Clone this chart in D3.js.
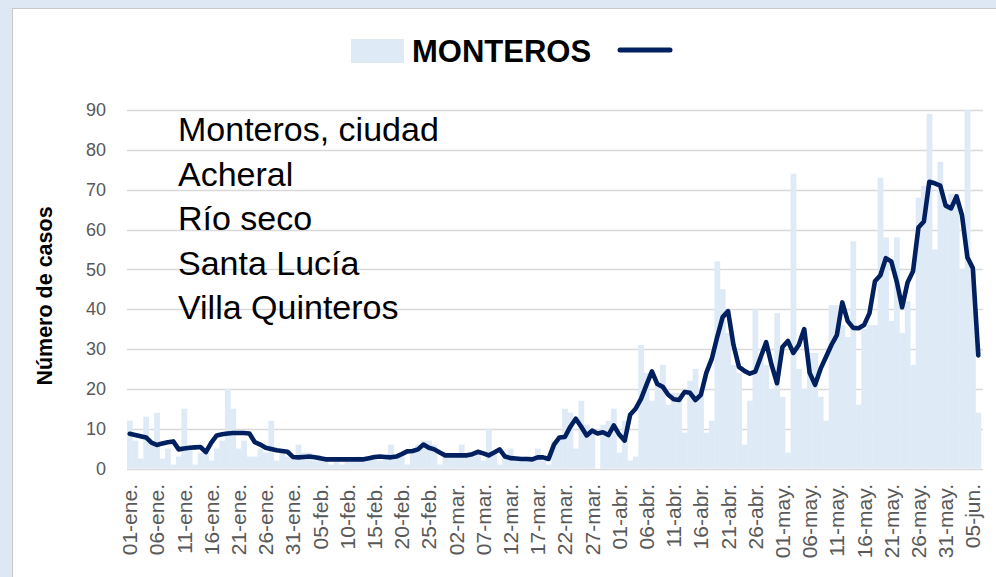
<!DOCTYPE html>
<html>
<head>
<meta charset="utf-8">
<script src="https://cdn.jsdelivr.net/npm/d3@7"></script>
<style>
  html, body { margin: 0; padding: 0; background: #fff; }
  svg { display: block; }
</style>
</head>
<body>
<svg id="chart" width="996" height="577"></svg>
<script>
// ---- DATA ----
const startDate = new Date(2021, 0, 1);
const endDate = new Date(2021, 5, 7); // exclusive
const categories = d3.timeDay.range(startDate, endDate); // 01-ene .. 06-jun (157 days)

const dailyCases = [
  12, 7, 2.5, 13, 6, 14, 2.5, 5, 1, 3,
  15, 5, 1, 4, 4, 2, 5, 7, 20, 15,
  5, 7, 3, 3, 5, 4, 12, 2, 4, 3,
  3, 6, 4, 4, 2, 3, 2, 1, 2, 1,
  2, 2, 3, 2, 3, 3, 2, 3, 6, 3,
  3, 1, 4, 6, 7, 7, 6, 1, 3, 3,
  3, 6, 3, 3, 4, 2, 10, 4, 1, 3,
  5, 2, 2, 3, 2, 5, 2, 1, 7, 8,
  15, 14, 5, 17, 11, 9, 0, 11, 12, 15,
  4, 12, 2, 3, 31, 24, 17, 21, 26, 16,
  19, 19, 9, 22, 25, 20, 9, 12, 52, 45,
  34, 26, 24, 6, 17, 40, 28, 26, 20, 39,
  18, 4, 74, 25, 20, 29, 29, 18, 12, 41,
  41, 36, 33, 57, 16, 35, 36, 36, 73, 58,
  37, 58, 34, 42, 26, 68, 71, 89, 55, 77,
  66, 69, 69, 50, 90, 50, 14
];

const trendLine = [
  8.7, 8.4, 8.1, 7.8, 6.5, 5.9, 6.3, 6.6, 6.8, 4.8,
  5.0, 5.2, 5.3, 5.4, 4.1, 6.5, 8.3, 8.6, 8.8, 8.9,
  8.9, 8.9, 8.8, 6.6, 6.0, 5.2, 4.9, 4.6, 4.4, 4.2,
  2.9, 2.8, 2.9, 3.0, 2.8, 2.6, 2.3, 2.3, 2.3, 2.3,
  2.3, 2.3, 2.3, 2.3, 2.6, 2.9, 3.0, 2.9, 2.8, 3.0,
  3.6, 4.3, 4.4, 4.8, 6.0, 5.2, 4.8, 4.0, 3.3, 3.3,
  3.3, 3.3, 3.3, 3.6, 4.2, 3.8, 3.3, 4.0, 4.8, 3.0,
  2.6, 2.5, 2.4, 2.4, 2.3, 2.8, 2.8, 2.4, 6.0, 7.8,
  7.9, 10.5, 12.5, 10.5, 8.3, 9.5, 8.8, 9.1, 8.4, 10.8,
  8.5, 7.0, 13.5, 15.0, 17.5, 21.0, 24.4, 21.2, 20.5, 18.5,
  17.4, 17.2, 19.2, 19.0, 17.2, 18.5, 24, 27.5, 33, 38,
  39.5, 31, 25.5, 24.5, 23.8, 24.3, 28, 31.7, 26, 21.4,
  30.5, 32, 29, 31, 35, 24, 21, 25, 28, 31,
  33.5, 41.7, 37, 35.3, 35.2, 36, 39, 47, 48.5, 52.8,
  52, 47, 40.5, 46.7, 49.5, 60.5, 62, 72, 71.6, 71,
  66, 65.3, 68.3, 63.6, 53, 50.3, 28.4
];

const tickLabels = [
  "01-ene.", "06-ene.", "11-ene.", "16-ene.", "21-ene.", "26-ene.", "31-ene.",
  "05-feb.", "10-feb.", "15-feb.", "20-feb.", "25-feb.",
  "02-mar.", "07-mar.", "12-mar.", "17-mar.", "22-mar.", "27-mar.",
  "01-abr.", "06-abr.", "11-abr.", "16-abr.", "21-abr.", "26-abr.",
  "01-may.", "06-may.", "11-may.", "16-may.", "21-may.", "26-may.", "31-may.",
  "05-jun."
];
const tickEvery = 5;

const yTicks = [0, 10, 20, 30, 40, 50, 60, 70, 80, 90];
const seriesName = "MONTEROS";
const yTitle = "Número de casos";
const localities = ["Monteros, ciudad", "Acheral", "Río seco", "Santa Lucía", "Villa Quinteros"];

// ---- STYLE ----
const barColor = "#DEEAF6";
const lineColor = "#002060";
const gridColor = "#D9D9D9";
const labelColor = "#595959";
const font = "'Liberation Sans', Arial, sans-serif";

// ---- DRAW ----
const svg = d3.select("#chart");

svg.append("rect").attr("x", 0).attr("y", 0).attr("width", 996).attr("height", 577).attr("fill", "#DDE8F4");
svg.append("rect").attr("x", 12.5).attr("y", 8.5).attr("width", 990).attr("height", 575)
  .attr("fill", "#fff").attr("stroke", "#C8C8C8").attr("stroke-width", 1);

const idx = categories.map((d, i) => i);
const x = d3.scaleBand().domain(idx).range([127, 981]).paddingInner(0).paddingOuter(0);
const y = d3.scaleLinear().domain([0, 90]).range([468.5, 110]);

// gridlines
svg.append("g").selectAll("line").data(yTicks).join("line")
  .attr("x1", 127).attr("x2", 983)
  .attr("y1", d => Math.round(y(d)) + 0.5).attr("y2", d => Math.round(y(d)) + 0.5)
  .attr("stroke", gridColor).attr("stroke-width", 1.5);

// bars
svg.append("g").selectAll("rect").data(dailyCases).join("rect")
  .attr("x", (d, i) => x(i))
  .attr("width", x.bandwidth() + 0.3)
  .attr("y", d => y(d))
  .attr("height", d => y(0) - y(d))
  .attr("fill", barColor);

// y axis labels
const yAxis = d3.axisLeft(y).tickValues(yTicks).tickSize(0).tickPadding(0);
const gy = svg.append("g").attr("transform", "translate(106,0)").call(yAxis);
gy.select(".domain").remove();
gy.selectAll("text").attr("font-family", font).attr("font-size", 18).attr("fill", labelColor);

// x axis labels
const xAxis = d3.axisBottom(x)
  .tickValues(idx.filter(i => i % tickEvery === 0))
  .tickFormat(i => tickLabels[i / tickEvery])
  .tickSize(0).tickPadding(0);
const gx = svg.append("g").attr("transform", "translate(0,484)").call(xAxis);
gx.select(".domain").remove();
gx.selectAll("text")
  .attr("font-family", font).attr("font-size", 21).attr("fill", labelColor)
  .attr("transform", "rotate(-90)")
  .attr("text-anchor", "end")
  .attr("x", 0).attr("y", 0).attr("dy", "0.36em");

// line
const line = d3.line().x((d, i) => x(i) + x.bandwidth() / 2).y(d => y(d));
svg.append("path").datum(trendLine)
  .attr("d", line).attr("fill", "none")
  .attr("stroke", lineColor).attr("stroke-width", 4.6)
  .attr("stroke-linejoin", "round").attr("stroke-linecap", "round");

// y title
svg.append("text")
  .attr("transform", "translate(44,296) rotate(-90)")
  .attr("text-anchor", "middle").attr("dy", "0.36em")
  .attr("font-family", font).attr("font-weight", "bold").attr("font-size", 21.5)
  .attr("fill", "#000").text(yTitle);

// legend
const lg = svg.append("g");
lg.append("rect").attr("x", 351).attr("y", 39).attr("width", 53).attr("height", 24).attr("fill", barColor);
lg.append("text").attr("x", 412).attr("y", 62)
  .attr("font-family", font).attr("font-weight", "bold").attr("font-size", 31)
  .attr("fill", "#000").text(seriesName);
lg.append("line").attr("x1", 620).attr("x2", 670).attr("y1", 50).attr("y2", 50)
  .attr("stroke", lineColor).attr("stroke-width", 5).attr("stroke-linecap", "round");

// localities text box
svg.append("g").selectAll("text").data(localities).join("text")
  .attr("x", 178).attr("y", (d, i) => 141 + i * 44.5)
  .attr("font-family", font).attr("font-size", 34).attr("fill", "#000")
  .text(d => d);
</script>
</body>
</html>
